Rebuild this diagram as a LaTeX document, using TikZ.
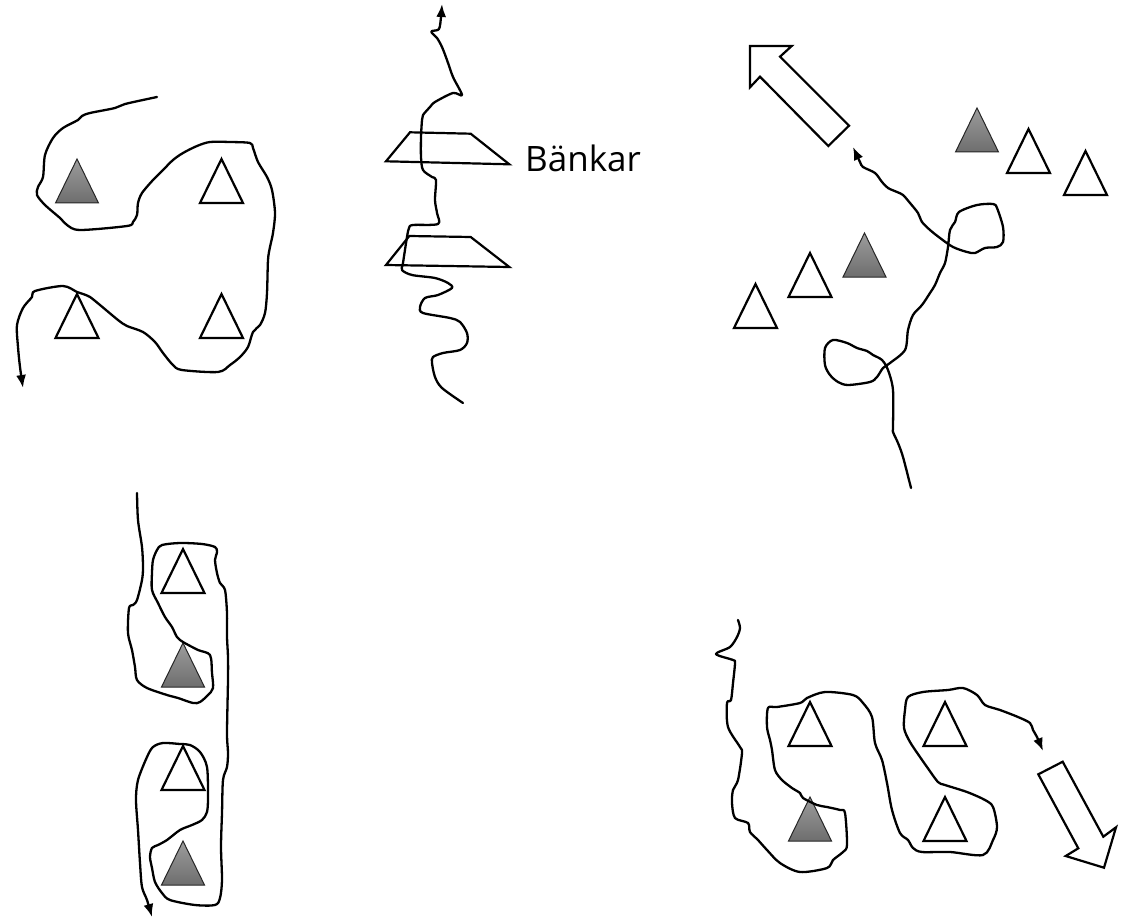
\documentclass[tikz,border=0pt]{standalone}
\usepackage{fontspec}
\newfontfamily\labelfont{Open Sans}
\usetikzlibrary{arrows.meta}
\definecolor{tritop}{HTML}{9C9C9C}
\definecolor{tribot}{HTML}{6E6E6E}
\tikzset{
  walk/.style={line width=2.3pt, line join=round, line cap=round},
  walkarrow/.style={walk, -{Latex[length=13pt,width=10pt]}},
  blockarrow/.style={line width=2.2pt, line join=miter, fill=white},
  bench/.style={line width=2.2pt, line join=miter},
  wtri/.pic={\draw[line width=2.2pt, fill=white, line join=miter] (-21.5,0) -- (21.5,0) -- (0,-44) -- cycle;},
  gtri/.pic={\draw[line width=1pt, draw=black!85, top color=tritop, bottom color=tribot, line join=miter] (-21.5,0) -- (21.5,0) -- (0,-44) -- cycle;}
}
\begin{document}
\begin{tikzpicture}[x=1pt,y=-1pt]
\useasboundingbox (0,0) rectangle (1127,920);

% ---------- top-left group ----------
\pic at (77,203) {gtri};
\pic at (221.5,203) {wtri};
\pic at (77,338) {wtri};
\pic at (221.5,338) {wtri};
\draw[walkarrow] plot[smooth,tension=0.5] coordinates {
(157,97) (125,104) (115,108) (90,113) (82,116) (78,120) (63,128) (53,138) (45,155) (43,177) (38,187) (37,195) (45,205) (60,218) (67,225) (80,230) (127,226) (133,222) (137,215) (138,203) (142,193) (153,180) (163,170) (173,160) (183,153) (197,146) (210,142) (230,142) (250,143) (253,148) (258,162) (267,177) (272,190) (275,213) (273,233) (270,247) (268,260) (267,293) (265,313) (260,325) (253,332) (248,347) (240,357) (230,365) (218,372) (182,370) (173,365) (163,353) (155,342) (143,332) (127,326) (118,320) (100,305) (90,297) (83,294) (77,292) (63,286) (35,291) (32,297) (23,308) (17,325) (18,347) (20,367) (23,388)};

% ---------- middle: benches ----------
\draw[bench] (410,132.3) -- (470.7,133.7) -- (509.3,164.3) -- (386,161.3) -- cycle;
\draw[bench] (409.3,236) -- (470.7,237) -- (509.3,267) -- (386,265) -- cycle;
\node[anchor=base west, inner sep=0pt, font=\labelfont\fontsize{35}{40}\selectfont] (label) at (525,172) {Bänkar};
\draw[walkarrow] plot[smooth,tension=0.5] coordinates {
(463,403) (442,388) (435,377) (432,363) (433,357) (443,353) (460,350) (467,343) (467,333) (460,322) (450,318) (423,313) (420,307) (425,298) (438,295) (452,288) (448,283) (435,278) (412,275) (402,270) (403,263) (407,237) (409,228) (413,225) (438,224) (437,213) (435,200) (436,180) (432,177) (423,170) (421,157) (421,137) (422,120) (423,115) (430,107) (435,102) (453,93) (462,95) (453,77) (447,60) (442,47) (437,38) (432,33) (432,31) (439,29) (441,17) (442,4)};

% ---------- top-right group ----------
\draw[blockarrow] (750,46) -- (791.7,46) -- (780,56.7) -- (849,125.7) -- (828.3,146) -- (760,76.7) -- (750,87.3) -- cycle;
\pic at (977,152) {gtri};
\pic at (1028.5,173) {wtri};
\pic at (1085.5,195) {wtri};
\pic at (864.5,277) {gtri};
\pic at (810,297) {wtri};
\pic at (755.5,328) {wtri};
\draw[walkarrow] plot[smooth,tension=0.5] coordinates {
(911,488) (903,457) (898,443) (893,432) (893,427) (893,390) (888,370) (882,360) (873,355) (867,351) (857,348) (847,343) (833,340) (825,348) (825,365) (830,375) (838,382) (848,385) (870,382) (877,377) (883,368) (890,363) (905,350) (908,330) (913,315) (922,305) (930,293) (935,285) (940,273) (945,263) (948,247) (950,230) (955,222) (959,212) (977,205) (993,204) (997,208) (1003,227) (1003,242) (997,247) (985,248) (975,253) (967,252) (953,247) (940,238) (930,230) (922,222) (918,213) (910,203) (903,195) (897,192) (888,188) (882,182) (875,173) (863,167) (860,162) (853,147)};

% ---------- bottom-left group ----------
\pic at (183,593) {wtri};
\pic at (183,687) {gtri};
\pic at (183,790) {wtri};
\pic at (183,885) {gtri};
\draw[walkarrow] plot[smooth,tension=0.5] coordinates {
(137,493) (138,520) (142,547) (143,567) (142,580) (137,600) (133,605) (129,608) (128,633) (132,650) (135,667) (137,680) (147,688) (167,695) (178,698) (193,703) (200,702) (208,695) (213,688) (212,673) (210,655) (198,650) (183,642) (177,637) (172,627) (165,617) (158,603) (152,590) (152,573) (153,560) (157,550) (162,545) (180,543) (202,544) (215,547) (217,552) (215,560) (217,573) (220,583) (225,590) (227,613) (227,637) (228,657) (228,680) (227,733) (228,753) (227,767) (223,780) (222,813) (221,847) (222,880) (220,898) (215,905) (195,905) (170,900) (162,893) (155,882) (152,868) (150,857) (152,848) (158,845) (167,840) (180,830) (192,825) (202,820) (207,812) (208,797) (207,767) (200,752) (190,745) (180,744) (163,743) (153,747) (147,757) (138,780) (136,800) (138,830) (140,863) (142,887) (147,900) (152,917)};

% ---------- bottom-right group ----------
\pic at (810,746) {wtri};
\pic at (810,841) {gtri};
\pic at (945,746) {wtri};
\pic at (945,841) {wtri};
\draw[blockarrow] (1038.3,774.3) -- (1062.7,761.7) -- (1103.3,836.7) -- (1116,827.3) -- (1104,867.7) -- (1065.7,856) -- (1078.3,848.3) -- cycle;
\draw[walkarrow] plot[smooth,tension=0.5] coordinates {
(738,620) (740,628) (737,637) (730,647) (716,654) (733,660) (735,663) (733,683) (731,700) (727,703) (728,727) (740,747) (742,753) (738,780) (733,790) (732,803) (735,818) (748,823) (750,832) (758,840) (767,850) (780,863) (800,872) (827,868) (833,860) (843,852) (847,845) (845,813) (840,810) (827,807) (817,805) (803,798) (800,793) (792,788) (782,780) (775,770) (772,750) (770,740) (767,727) (768,708) (777,707) (800,703) (807,698) (825,692) (853,695) (863,703) (872,717) (875,743) (882,760) (887,783) (892,810) (900,833) (908,840) (913,848) (922,852) (950,852) (983,855) (993,840) (997,827) (993,807) (985,800) (967,792) (945,785) (938,782) (927,767) (920,757) (910,742) (904,728) (905,710) (908,697) (923,692) (948,690) (963,688) (977,695) (985,705) (1000,710) (1018,717) (1030,723) (1033,730) (1037,737) (1043,751)};
\end{tikzpicture}
\end{document}
